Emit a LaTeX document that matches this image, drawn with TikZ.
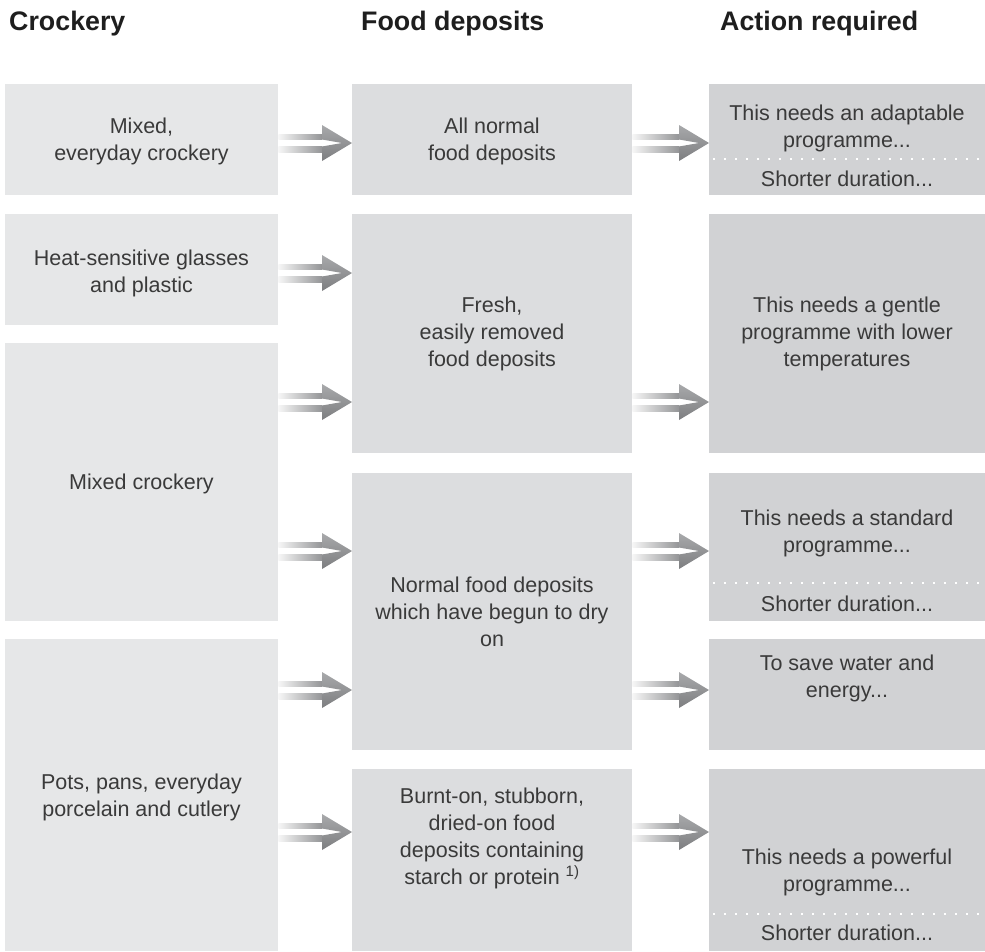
\documentclass[tikz,border=0pt]{standalone}
\usepackage{fontspec}
\setmainfont{Liberation Sans}
\usetikzlibrary{calc}
\definecolor{cA}{HTML}{E6E7E8}
\definecolor{cB}{HTML}{DCDDDF}
\definecolor{cC}{HTML}{D1D2D4}
\definecolor{txt}{HTML}{3A3A3A}
\definecolor{headtxt}{HTML}{1E1E1E}
\definecolor{arrL}{HTML}{F6F6F6}
\definecolor{arrR}{HTML}{949597}
\definecolor{headT}{HTML}{A8A9AB}
\definecolor{headB}{HTML}{7D7E80}
\tikzset{
  boxA/.style={fill=cA, draw=none, inner sep=0pt, anchor=north west},
  boxB/.style={fill=cB, draw=none, inner sep=0pt, anchor=north west},
  boxC/.style={fill=cC, draw=none, inner sep=0pt, anchor=north west},
  txtnode/.style={align=center, text=txt, inner sep=0pt, font=\fontsize{21.5}{27}\selectfont},
  headnode/.style={anchor=base west, inner sep=0pt, text=headtxt, font=\fontsize{26.8}{30}\selectfont\bfseries},
  dotline/.style={draw=white, line width=2.2pt, dash pattern=on 2.2pt off 8.8pt, dash phase=-4pt},
  shaftstyle/.style={left color=arrL, right color=arrR},
  chevstyle/.style={top color=headT, bottom color=headB}
}
\newcommand\dblarr[3]{%
  \path (#1.east |- 0,#3) coordinate (s) (#2.west |- 0,#3) coordinate (t);
  \shade[shaftstyle] ($(s)+(0,-9)$) rectangle ($(t)+(-30,-3.5)$);
  \shade[shaftstyle] ($(s)+(0,3.5)$) rectangle ($(t)+(-30,9)$);
  \shade[chevstyle] ($(t)+(-30,-18)$) -- (t) -- ($(t)+(-30,18)$) -- ($(t)+(-30,3.5)$)
     -- ($(t)+(-10,0)$) -- ($(t)+(-30,-3.5)$) -- cycle;
}
\begin{document}
\begin{tikzpicture}[x=1pt,y=-1pt]
\useasboundingbox (0,0) rectangle (985,951);
% headers
\node[headnode] (h1) at (9,30) {Crockery};
\node[headnode] (h2) at (361,30) {Food deposits};
\node[headnode] (h3) at (720,30) {Action required};
% column 1
\node[boxA, minimum width=273pt, minimum height=111pt] (c1) at (5,84) {};
\node[boxA, minimum width=273pt, minimum height=111pt] (c2) at (5,214) {};
\node[boxA, minimum width=273pt, minimum height=278pt] (c3) at (5,343) {};
\node[boxA, minimum width=273pt, minimum height=312pt] (c4) at (5,639) {};
% column 2
\node[boxB, minimum width=280pt, minimum height=111pt] (f1) at (352,84) {};
\node[boxB, minimum width=280pt, minimum height=239pt] (f2) at (352,214) {};
\node[boxB, minimum width=280pt, minimum height=277pt] (f3) at (352,473) {};
\node[boxB, minimum width=280pt, minimum height=182pt] (f4) at (352,769) {};
% column 3
\node[boxC, minimum width=276pt, minimum height=111pt] (a1) at (709,84) {};
\node[boxC, minimum width=276pt, minimum height=239pt] (a2) at (709,214) {};
\node[boxC, minimum width=276pt, minimum height=148pt] (a3) at (709,473) {};
\node[boxC, minimum width=276pt, minimum height=111pt] (a4) at (709,639) {};
\node[boxC, minimum width=276pt, minimum height=182pt] (a5) at (709,769) {};
% dotted separators
\draw[dotline] (a1.west |- 0,159) -- (a1.east |- 0,159);
\draw[dotline] (a3.west |- 0,583) -- (a3.east |- 0,583);
\draw[dotline] (a5.west |- 0,914) -- (a5.east |- 0,914);
% texts column 1
\node[txtnode] (tc1) at (141.5,141) {Mixed,\\everyday crockery};
\node[txtnode] (tc2) at (141.5,273) {Heat-sensitive glasses\\and plastic};
\node[txtnode] (tc3) at (141.5,484) {Mixed crockery};
\node[txtnode] (tc4) at (141.5,797) {Pots, pans, everyday\\porcelain and cutlery};
% texts column 2
\node[txtnode] (tf1) at (492,141) {All normal\\food deposits};
\node[txtnode] (tf2) at (492,334) {Fresh,\\easily removed\\food deposits};
\node[txtnode] (tf3) at (492,612) {Normal food deposits\\which have begun to dry\\on};
\node[txtnode] (tf4) at (492,838) {Burnt-on, stubborn,\\dried-on food\\deposits containing\\starch or protein \textsuperscript{1)}};
% texts column 3
\node[txtnode] (ta1) at (847,128) {This needs an adaptable\\programme...};
\node[txtnode] (ta1s) at (847,179) {Shorter duration...};
\node[txtnode] (ta2) at (847,334) {This needs a gentle\\programme with lower\\temperatures};
\node[txtnode] (ta3) at (847,533) {This needs a standard\\programme...};
\node[txtnode] (ta3s) at (847,604) {Shorter duration...};
\node[txtnode] (ta4) at (847,678) {To save water and\\energy...};
\node[txtnode] (ta5) at (847,872) {This needs a powerful\\programme...};
\node[txtnode] (ta5s) at (847,933) {Shorter duration...};
% arrows column 1 -> 2
\dblarr{c1}{f1}{143}
\dblarr{c2}{f2}{273}
\dblarr{c3}{f2}{402}
\dblarr{c3}{f3}{551}
\dblarr{c4}{f3}{690}
\dblarr{c4}{f4}{832}
% arrows column 2 -> 3
\dblarr{f1}{a1}{143}
\dblarr{f2}{a2}{402}
\dblarr{f3}{a3}{551}
\dblarr{f3}{a4}{690}
\dblarr{f4}{a5}{832}
\end{tikzpicture}
\end{document}
